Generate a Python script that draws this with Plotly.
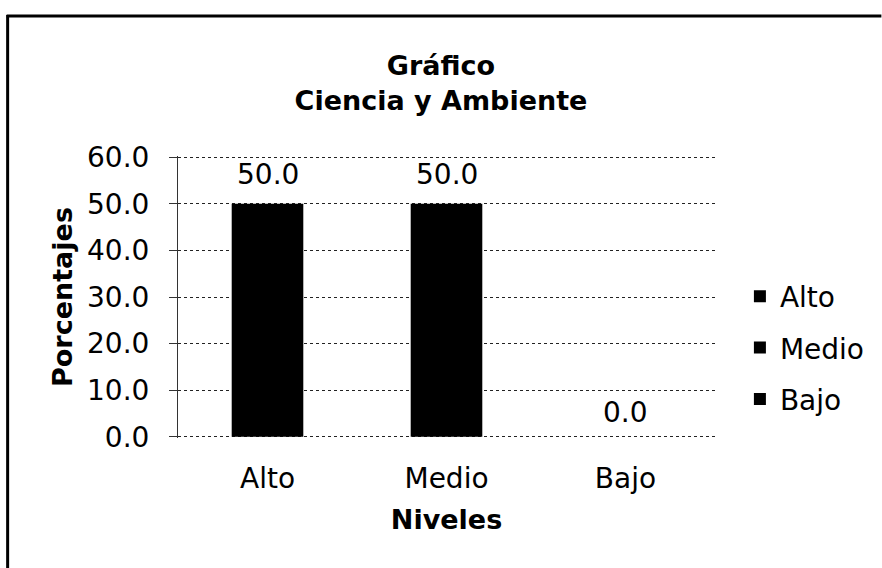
import plotly.graph_objects as go

categorias = ["Alto", "Medio", "Bajo"]
porcentajes = [50.0, 50.0, 0.0]
y_ticks = [0, 10, 20, 30, 40, 50, 60]
y_tick_text = ["0.0", "10.0", "20.0", "30.0", "40.0", "50.0", "60.0"]

FONT = "DejaVu Sans"
W, H = 882, 568
L, R, T, B = 178, 165, 156, 130
pw, ph = W - L - R, H - T - B

fig = go.Figure()
for cat, val in zip(categorias, porcentajes):
    fig.add_trace(go.Bar(
        x=[cat], y=[val], name=cat, legendgroup=cat,
        marker=dict(color="black", line=dict(width=0)),
        cliponaxis=False,
    ))

for cat, val in zip(categorias, porcentajes):
    fig.add_annotation(x=cat, y=val, xref="x", yref="y", text=f"{val:.1f}",
                       showarrow=False, yanchor="middle",
                       yshift=29 if val > 0 else 24,
                       font=dict(family=FONT, size=28, color="black"))

def px_x(x):
    return (x - L) / pw

def px_y(y):
    return (H - B - y) / ph

fig.update_layout(
    width=W, height=H,
    margin=dict(l=L, r=R, t=T, b=B),
    paper_bgcolor="white", plot_bgcolor="white",
    barmode="overlay", bargap=0.6,
    font=dict(family=FONT, size=28, color="black"),
    title=dict(text="<b>Gráfico<br>Ciencia y Ambiente</b>",
               x=0.5, xanchor="center", y=1 - 75 / H, yanchor="middle",
               font=dict(family=FONT, size=27, color="black")),
    xaxis=dict(categoryorder="array", categoryarray=categorias,
               showgrid=False, showline=False, ticks="",
               ticklabelstandoff=21,
               tickfont=dict(family=FONT, size=28),
               title=dict(text="<b>Niveles</b>", font=dict(family=FONT, size=27), standoff=16)),
    yaxis=dict(range=[-0.25, 60.25], tickvals=y_ticks, ticktext=y_tick_text,
               showgrid=True, gridcolor="#222222", griddash="dot", gridwidth=1,
               showline=True, linecolor="#333333", linewidth=1,
               ticks="outside", ticklen=8, tickcolor="#333333",
               ticklabelstandoff=14,
               tickfont=dict(family=FONT, size=28),
               zeroline=False,
               title=dict(text="<b>Porcentajes</b>", font=dict(family=FONT, size=27), standoff=6)),
    legend=dict(x=px_x(742), xanchor="left", y=px_y(348), yanchor="middle",
                font=dict(family=FONT, size=28), traceorder="grouped",
                tracegroupgap=12, bgcolor="rgba(0,0,0,0)", itemwidth=30),
    showlegend=True,
)

# frame of the chart (top and left borders)
fig.add_shape(type="line", xref="paper", yref="paper",
              x0=px_x(6), x1=px_x(884), y0=px_y(16), y1=px_y(16),
              line=dict(color="black", width=3))
fig.add_shape(type="line", xref="paper", yref="paper",
              x0=px_x(7), x1=px_x(7), y0=px_y(15), y1=px_y(570),
              line=dict(color="black", width=3))

fig.write_html("out.html", config={"displayModeBar": False},
               post_script="document.body.style.margin='0';document.body.style.overflow='hidden';")
